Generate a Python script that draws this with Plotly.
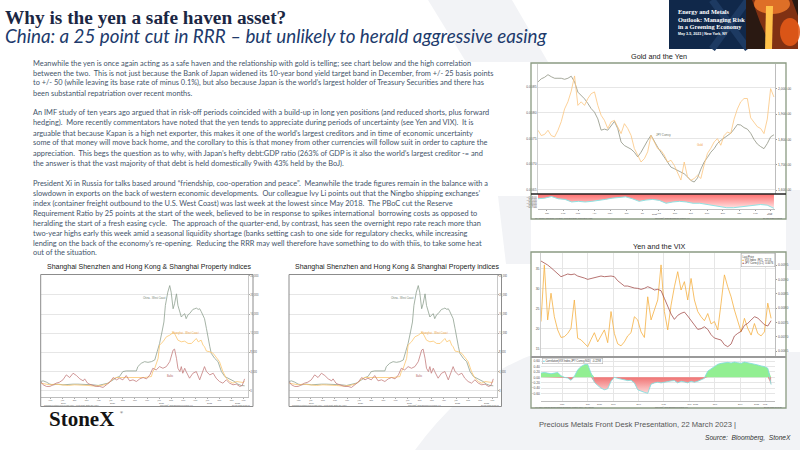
import numpy as np
import pandas as pd
import plotly.graph_objects as go

W, H = 800, 450

# ---------------- Gold and the Yen (Dec-2021 .. Mar-2023) ----------------
gold_dates = pd.date_range("2021-12-29", "2023-03-22", periods=72)
gold_jpy_x1e4 = [86.0, 86.6, 86.9, 87.4, 87.0, 86.7, 86.7, 86.7, 86.5, 86.7,
                 87.1, 86.0, 84.0, 83.4, 82.7, 81.8, 80.8, 80.1, 78.8, 76.6,
                 76.8, 76.6, 77.5, 78.3, 76.9, 74.3, 73.6, 73.3, 72.9, 72.3,
                 71.4, 72.3, 73.6, 74.6, 75.6, 74.3, 73.3, 72.3, 71.4, 70.4,
                 69.4, 69.1, 68.8, 68.5, 68.1, 67.5, 66.8, 66.5, 67.3, 69.0,
                 70.4, 71.3, 72.3, 73.0, 74.0, 74.6, 75.1, 75.6, 76.0, 76.8,
                 77.7, 77.6, 77.1, 76.8, 76.0, 74.8, 73.9, 73.4, 73.0, 74.0,
                 75.3, 75.7]
gold_usd = [1836, 1815, 1820, 1836, 1815, 1810, 1836, 1870, 1920, 1948,
            1990, 2050, 1934, 1948, 1934, 1961, 1980, 1987, 1934, 1895,
            1875, 1843, 1869, 1875, 1849, 1823, 1862, 1843, 1816, 1764,
            1738, 1711, 1724, 1751, 1816, 1790, 1764, 1757, 1738, 1711,
            1718, 1698, 1672, 1640, 1711, 1652, 1639, 1646, 1659, 1646,
            1700, 1745, 1765, 1790, 1803, 1777, 1815, 1829, 1823, 1880,
            1920, 1948, 1961, 1961, 1885, 1869, 1850, 1843, 1823, 1880,
            2000, 1967]
gold_corr_dates = pd.date_range("2021-12-29", "2023-03-22", periods=36)
gold_corr = [-0.422, -0.400, -0.344, -0.422, -0.444, -0.533, -0.511, -0.533, -0.511, -0.489,
             -0.444, -0.400, -0.367, -0.356, -0.422, -0.511, -0.467, -0.444, -0.478, -0.578,
             -0.533, -0.511, -0.533, -0.578, -0.578, -0.622, -0.667, -0.711, -0.733, -0.733,
             -0.711, -0.689, -0.644, -0.622, -0.644, -0.756]

# ---------------- Yen and the VIX (Dec-2020 .. Mar-2023) ----------------
vix_dates = pd.date_range("2020-12-15", "2023-03-22", periods=70)
vix_index = [21.8, 36.0, 22.2, 28.9, 23.0, 19.7, 17.8, 18.0, 18.8, 20.1,
             27.2, 17.6, 17.2, 16.3, 15.5, 17.3, 19.0, 16.7, 18.2, 19.7,
             16.5, 24.3, 18.8, 16.2, 15.7, 16.7, 18.2, 19.0, 23.0, 22.2,
             19.2, 17.8, 28.0, 22.2, 24.7, 27.2, 36.0, 24.3, 19.7, 25.9,
             30.5, 34.3, 29.7, 31.8, 27.2, 32.6, 27.2, 24.3, 23.0, 22.0,
             23.8, 21.2, 21.8, 19.7, 26.4, 33.5, 30.5, 28.0, 24.7, 21.8,
             19.2, 22.6, 20.1, 18.4, 21.3, 18.8, 18.2, 19.2, 26.4, 22.6]
vix_jpy_x1e4 = [96.40, 95.81, 95.00, 94.07, 92.91, 92.09, 90.93, 91.39, 91.86, 91.63,
                91.86, 91.16, 90.93, 90.46, 90.00, 90.23, 90.70, 90.93, 91.16, 90.93,
                91.05, 91.16, 90.93, 89.53, 88.60, 87.67, 87.67, 87.21, 86.98, 86.86,
                86.51, 86.86, 87.44, 86.98, 86.28, 86.51, 86.04, 83.37, 80.46, 77.90,
                76.04, 77.44, 78.14, 78.60, 77.21, 75.58, 74.18, 72.55, 72.79, 73.48,
                72.55, 70.69, 69.53, 69.18, 68.83, 67.20, 66.51, 67.44, 70.23, 71.16,
                71.86, 73.95, 74.65, 75.81, 76.97, 76.51, 75.35, 74.18, 73.72, 75.58]
vix_corr = [0.158, 0.182, 0.158, 0.133, 0.158, 0.182, 0.061, 0.0, -0.024, -0.109,
            0.036, 0.279, 0.400, 0.473, 0.485, 0.158, -0.182, -0.303, -0.400, -0.461,
            -0.424, -0.145, 0.0, -0.036, -0.061, -0.085, -0.121, -0.109, -0.206, -0.461,
            -0.521, -0.558, -0.594, -0.255, -0.206, -0.182, -0.206, -0.170, -0.158, -0.133,
            -0.121, -0.206, -0.145, -0.170, -0.206, -0.145, -0.182, -0.145, -0.085, -0.036,
            0.230, 0.315, 0.400, 0.485, 0.521, 0.545, 0.558, 0.533, 0.570, 0.545,
            0.521, 0.570, 0.545, 0.521, 0.509, 0.461, 0.424, 0.400, 0.339, -0.267]

# ---------------- container freight panels (decimal years) ----------------
china_t = [2019.00, 2019.05, 2019.12, 2019.19, 2019.26, 2019.36, 2019.46, 2019.57, 2019.67, 2019.77,
           2019.88, 2019.98, 2020.08, 2020.19, 2020.29, 2020.39, 2020.50, 2020.57, 2020.63, 2020.70,
           2020.77, 2020.88, 2020.98, 2021.01, 2021.08, 2021.15, 2021.22, 2021.29, 2021.36, 2021.41,
           2021.46, 2021.51, 2021.55, 2021.58, 2021.61, 2021.63, 2021.67, 2021.70, 2021.74, 2021.77,
           2021.81, 2021.84, 2021.88, 2021.91, 2021.94, 2021.98, 2022.01, 2022.05, 2022.08, 2022.12,
           2022.15, 2022.19, 2022.22, 2022.26, 2022.29, 2022.32, 2022.36, 2022.39, 2022.43, 2022.46,
           2022.50, 2022.53, 2022.57, 2022.60, 2022.67, 2022.74, 2022.81, 2022.88, 2022.94, 2023.01,
           2023.08, 2023.15, 2023.22]
china_wc = [1931, 2069, 1793, 1379, 1241, 1379, 1241, 1379, 1379, 1379,
            1379, 1241, 1241, 1103, 1379, 1586, 2276, 2759, 2966, 4000,
            4138, 4138, 4138, 5035, 5724, 6069, 5931, 6069, 6414, 8138,
            9862, 12276, 14345, 17793, 19517, 20552, 21931, 20552, 17103, 18138,
            20207, 17793, 16414, 15379, 15724, 16069, 15035, 15862, 16069, 16552,
            16966, 17103, 17241, 16966, 17103, 16552, 15724, 15035, 12966, 10897,
            9172, 7793, 7103, 6759, 6069, 4000, 2966, 2621, 2276, 1931,
            1379, 1103, 1034]
shanghai_t = [2019.00, 2019.08, 2019.19, 2019.29, 2019.43, 2019.57, 2019.70, 2019.84, 2019.98, 2020.12,
              2020.26, 2020.36, 2020.43, 2020.50, 2020.57, 2020.63, 2020.74, 2020.88, 2021.01, 2021.15,
              2021.29, 2021.32, 2021.36, 2021.43, 2021.46, 2021.53, 2021.60, 2021.67, 2021.74, 2021.77,
              2021.84, 2021.91, 2021.98, 2022.05, 2022.12, 2022.19, 2022.22, 2022.26, 2022.32, 2022.36,
              2022.39, 2022.43, 2022.50, 2022.57, 2022.63, 2022.70, 2022.77, 2022.84, 2022.91, 2022.98,
              2023.05, 2023.12, 2023.19, 2023.22]
shanghai_wc = [1586, 1379, 1241, 1379, 1241, 1103, 1241, 1241, 1103, 966,
               1103, 1379, 1793, 2483, 2759, 2759, 2759, 2759, 2759, 2759,
               2966, 4000, 4690, 6759, 9517, 10207, 11241, 11586, 12138, 11931,
               10552, 10207, 10345, 9862, 9862, 10552, 10897, 10207, 10552, 9517,
               9172, 8276, 8138, 7793, 7103, 6069, 4000, 2621, 1931, 1586,
               1931, 1793, 1724, 1931]
baltic_t = [2019.00, 2019.05, 2019.12, 2019.19, 2019.26, 2019.32, 2019.39, 2019.46, 2019.53, 2019.60,
            2019.67, 2019.74, 2019.81, 2019.88, 2019.91, 2019.97, 2020.01, 2020.08, 2020.15, 2020.22,
            2020.29, 2020.36, 2020.43, 2020.50, 2020.57, 2020.63, 2020.70, 2020.77, 2020.84, 2020.91,
            2020.98, 2021.05, 2021.12, 2021.19, 2021.26, 2021.32, 2021.39, 2021.46, 2021.53, 2021.60,
            2021.67, 2021.74, 2021.77, 2021.81, 2021.84, 2021.88, 2021.91, 2021.94, 2021.98, 2022.01,
            2022.08, 2022.15, 2022.22, 2022.29, 2022.36, 2022.39, 2022.43, 2022.50, 2022.57, 2022.63,
            2022.70, 2022.77, 2022.84, 2022.91, 2022.98, 2023.05, 2023.12, 2023.17, 2023.22]
baltic = [1931, 1241, 897, 897, 1241, 1586, 1793, 2276, 3310, 2759,
          3655, 3172, 2483, 2069, 2483, 1586, 1379, 1103, 897, 897,
          690, 1241, 1793, 2759, 2276, 2621, 2276, 3172, 2069, 2276,
          1931, 2483, 2759, 2483, 3310, 4690, 4345, 5035, 4690, 5035,
          6069, 8483, 8690, 6759, 4690, 4000, 5035, 3655, 4690, 4000,
          2621, 3655, 4000, 2276, 4000, 5035, 4000, 3310, 3655, 2621,
          1931, 1586, 2276, 1586, 1241, 1379, 897, 1103, 2483]

month_names = ["Jan", "Feb", "Mar", "Apr", "May", "Jun", "Jul", "Aug", "Sep", "Oct", "Nov", "Dec"]

title_1 = "Why is the yen a safe haven asset?"
title_2 = "China: a 25 point cut in RRR \u2013 but unlikely to herald aggressive easing"
body_lines = [
    "Meanwhile the yen is once again acting as a safe haven and the relationship with gold is telling; see chart below and the high correlation",
    "between the two.  This is not just because the Bank of Japan widened its 10-year bond yield target band in December, from +/- 25 basis points",
    "to +/- 50 (while leaving its base rate of minus 0.1%), but also because Japan is the world\u2019s largest holder of Treasury Securities and there has",
    "been substantial repatriation over recent months.",
    "",
    "An IMF study of ten years ago argued that in risk-off periods coincided with a build-up in long yen positions (and reduced shorts, plus forward",
    "hedging).  More recently commentators have noted that the yen tends to appreciate during periods of uncertainty (see Yen and VIX).  It is",
    "arguable that because Kapan is a high net exporter, this makes it one of the world\u2019s largest creditors and in time of economic uncertainty",
    "some of that money will move back home, and the corollary to this is that money from other currencies will follow suit in order to capture the",
    "appreciation.  This begs the question as to why, with Japan\u2019s hefty debt:GDP ratio (263% of GDP is it also the world\u2019s largest creditor -= and",
    "the answer is that the vast majority of that debt is held domestically 9with 43% held by the BoJ).",
    "",
    "President Xi in Russia for talks based around \u201cfriendship, coo-operation and peace\u201d.  Meanwhile the trade figures remain in the balance with a",
    "slowdown in exports on the back of western economic developments.  Our colleague Ivy Li points out that the Ningbo shipping exchanges\u2019",
    "index (container freight outbound to the U.S. West Coast) was last week at the lowest since May 2018.  The PBoC cut the Reserve",
    "Requirement Ratio by 25 points at the start of the week, believed to be in response to spikes international  borrowing costs as opposed to",
    "heralding the start of a fresh easing cycle.   The approach of the quarter-end, by contrast, has seen the overnight repo rate reach more than",
    "two-year highs early this week amid a seasonal liquidity shortage (banks setting cash to one side for regulatory checks, while increasing",
    "lending on the back of the economy\u2019s re-opening.  Reducing the RRR may well therefore have something to do with thiis, to take some heat",
    "out of the situation.",
]


def px(x):
    return x / W


def py(y):
    return 1 - y / H


fig = go.Figure()


def text(x, y, s, size, color="#222", family="Liberation Sans", xanchor="left", **kw):
    fig.add_annotation(x=px(x), y=py(y), xref="paper", yref="paper", text=s, showarrow=False,
                       font=dict(size=size, color=color, family=family),
                       xanchor=xanchor, yanchor="middle", **kw)


def rect(x0, y0, x1, y1, fill=None, line=None, width=0, layer="below"):
    fig.add_shape(type="rect", xref="paper", yref="paper", x0=px(x0), x1=px(x1), y0=py(y0), y1=py(y1),
                  fillcolor=fill, line=dict(color=line, width=width), layer=layer)


def poly(points, fill, layer="below", opacity=1):
    d = "M " + " L ".join(f"{px(a):.4f},{py(b):.4f}" for a, b in points) + " Z"
    fig.add_shape(type="path", xref="paper", yref="paper", path=d, fillcolor=fill,
                  line=dict(width=0), layer=layer, opacity=opacity)


def hline(x0, x1, y, color, width, layer="above"):
    fig.add_shape(type="line", xref="paper", yref="paper", x0=px(x0), x1=px(x1), y0=py(y), y1=py(y),
                  line=dict(color=color, width=width), layer=layer)


# ---- background watermark (light grey X)
wm = "#f2f3f6"
poly([(428, 0), (512, 0), (548, 62), (466, 62)], wm)
poly([(498, 196), (531, 196), (531, 264), (506, 264)], wm)
poly([(786, 190), (800, 190), (800, 270), (786, 270)], wm)
fig.add_shape(type="path", xref="paper", yref="paper", layer="below", fillcolor=wm, line=dict(width=0),
              path=f"M {px(415):.4f},{py(450):.4f} Q {px(470):.4f},{py(375):.4f} {px(540):.4f},{py(352):.4f} "
                   f"L {px(800):.4f},{py(352):.4f} L {px(800):.4f},{py(450):.4f} Z")

# ---- chart boxes (white)
rect(531, 63, 786, 219, fill="white")
rect(531, 252, 786, 408, fill="white")
rect(40.7, 274.5, 253, 406.5, fill="white")
rect(289, 274.5, 501.5, 406.5, fill="white")

# ---- banner top-right
rect(669, 0, 798, 49, fill="#10284a")
fig.add_shape(type="line", xref="paper", yref="paper", x0=px(712), y0=py(0), x1=px(748), y1=py(49),
              line=dict(color="#1d3a62", width=7), layer="below")
fig.add_shape(type="line", xref="paper", yref="paper", x0=px(748), y0=py(0), x1=px(712), y1=py(49),
              line=dict(color="#1d3a62", width=7), layer="below")
rect(746, 0, 798, 49, fill="#2a1912")
poly([(752, 0), (792, 0), (798, 16), (798, 49), (772, 49), (760, 22)], "#8a3414", opacity=0.9)
fig.add_shape(type="circle", xref="paper", yref="paper", x0=px(754), x1=px(790), y0=py(14), y1=py(-6),
              fillcolor="#e8772a", line=dict(width=0), layer="below", opacity=0.9)
poly([(766, 6), (773, 6), (772, 49), (765, 49)], "#ffc24a")
fig.add_shape(type="circle", xref="paper", yref="paper", x0=px(780), x1=px(800), y0=py(46), y1=py(18),
              fillcolor="#e35a18", line=dict(width=0), layer="below", opacity=0.9)
text(676, 11.5, "<b>Energy and Metals</b>", 6.3, "white", "Liberation Serif")
text(676, 19, "<b>Outlook: Managing Risk</b>", 6.3, "white", "Liberation Serif")
text(676, 26.5, "<b>in a Greening Economy</b>", 6.3, "white", "Liberation Serif")
text(676, 34, "<b>May 3-5, 2023 | New York, NY</b>", 3.6, "white", "Liberation Sans")

# ---- titles and body text
text(3, 17, "<b>" + title_1 + "</b>", 19.3, "#1b2744", "Liberation Serif")
text(3, 36, "<i>" + title_2 + "</i>", 18.8, "#203a6c", "Lato")
for i, line in enumerate(body_lines):
    if line:
        text(31, 63 + 10 * i, line, 7.4, "#44546A", "Lato")

# ================= Gold and the Yen =================
gx = [px(538), px(775)]
fig.add_trace(go.Scatter(x=gold_dates, y=np.array(gold_jpy_x1e4) / 1e4, mode="lines",
                         line=dict(color="#8f9383", width=0.8), xaxis="x", yaxis="y"))
fig.add_trace(go.Scatter(x=gold_dates, y=gold_usd, mode="lines",
                         line=dict(color="#fbc57f", width=0.8), xaxis="x", yaxis="y2"))
fig.add_trace(go.Scatter(x=gold_corr_dates, y=gold_corr, mode="lines", fill="tozeroy",
                         fillgradient=dict(type="vertical", start=-0.78, stop=-0.26,
                                           colorscale=[[0, "#ffe9e9"], [1, "#ff6e6e"]]),
                         line=dict(color="#8fe3e3", width=1), xaxis="x2", yaxis="y3"))

g_months = pd.date_range("2022-01-01", "2023-03-01", freq="MS") + pd.Timedelta(days=14)
g_text = [month_names[d.month - 1] for d in g_months]

axis_font = dict(size=3.4, color="#555", family="Liberation Sans")
x_font = dict(size=2.5, color="#555", family="Liberation Sans")
grid = "#e6e6e6"
gold_xrange = ["2021-12-29", "2023-03-24"]
fig.update_layout(
    xaxis=dict(domain=gx, anchor="y", range=gold_xrange, showticklabels=False, showgrid=False,
               zeroline=False, showline=False),
    yaxis=dict(domain=[py(194), py(64)], anchor="x", range=[0.006417, 0.008948],
               tickvals=[0.0065, 0.0070, 0.0075, 0.0080, 0.0085], tickformat=".4f", tickfont=axis_font,
               showgrid=True, gridcolor=grid, gridwidth=0.6, zeroline=False, showline=True,
               linecolor="#cfcfcf", linewidth=0.6, ticks="", ticklen=0),
    yaxis2=dict(overlaying="y", anchor="x", side="right", range=[1585, 2097],
                tickvals=[1600, 1700, 1800, 1900, 2000], tickformat=",.2f", tickfont=axis_font,
                showgrid=False, zeroline=False, showline=True, linecolor="#bdbdbd", linewidth=0.6,
                ticks="outside", ticklen=1.5, tickcolor="#999"),
    xaxis2=dict(domain=gx, anchor="y3", range=gold_xrange, tickvals=list(g_months), ticktext=g_text,
                tickfont=x_font, showgrid=False, zeroline=False, showline=True, linecolor="#bdbdbd",
                linewidth=0.6, ticks="outside", ticklen=0.8, tickcolor="#999"),
    yaxis3=dict(domain=[py(209), py(194)], anchor="x2", range=[-0.778, -0.256],
                tickvals=[-0.4, -0.5, -0.6, -0.7], tickformat=".3f", tickfont=axis_font,
                showgrid=False, zeroline=False, showline=False),
)
text(663, 134.7, "JPY Curncy", 2.8, "#6b6f60", xanchor="center")
text(699.5, 144.7, "Gold", 2.8, "#f2a24a", xanchor="center")
text(655, 214.4, "2022", 2.3, "#555", xanchor="center")
text(770, 214.4, "2023", 2.3, "#555", xanchor="center")
text(533, 217.6, "JPY Curncy (Japanese Yen Spot)  Gold Spot $/Oz  Correlation (90D)", 1.9, "#666")
text(672, 217.6, "Copyright\u00a9 2023 Bloomberg Finance L.P.", 1.9, "#666", xanchor="center")
text(784, 217.6, "21-Mar-2023 10:15:52", 1.9, "#666", xanchor="right")
text(658.5, 56.5, "Gold and the Yen", 7.3, "#222", xanchor="center")
rect(531, 63, 786, 219, line="#8a9a82", width=1.3, layer="above")
hline(531, 786, 194, "#222", 1.4)

# ================= Yen and the VIX =================
vx = [px(541), px(775)]
fig.add_trace(go.Scatter(x=vix_dates, y=vix_index, mode="lines",
                         line=dict(color="#f5b041", width=0.8), xaxis="x3", yaxis="y4"))
fig.add_trace(go.Scatter(x=vix_dates, y=np.array(vix_jpy_x1e4) / 1e4, mode="lines",
                         line=dict(color="#a5504e", width=0.8), xaxis="x3", yaxis="y5"))
corr = np.array(vix_corr)
fig.add_trace(go.Scatter(x=vix_dates, y=np.maximum(corr, 0), mode="lines", fill="tozeroy",
                         fillcolor="#92ef92", line=dict(width=0), xaxis="x4", yaxis="y6"))
fig.add_trace(go.Scatter(x=vix_dates, y=np.minimum(corr, 0), mode="lines", fill="tozeroy",
                         fillgradient=dict(type="vertical", start=-0.62, stop=0,
                                           colorscale=[[0, "#ffdede"], [1, "#f07474"]]),
                         line=dict(width=0), xaxis="x4", yaxis="y6"))
fig.add_trace(go.Scatter(x=vix_dates, y=corr, mode="lines", line=dict(color="#86dede", width=0.9),
                         xaxis="x4", yaxis="y6"))

q_ticks = pd.date_range("2021-03-01", "2023-03-01", freq="3MS")
q_text = [month_names[d.month - 1] for d in q_ticks]
vix_xrange = ["2020-12-15", "2023-04-05"]
fig.update_layout(
    xaxis3=dict(domain=vx, anchor="y4", range=vix_xrange, tickvals=list(q_ticks), showticklabels=False,
                showgrid=True, gridcolor=grid, gridwidth=0.6, zeroline=False, showline=False),
    yaxis4=dict(domain=[py(356.7), py(252.7)], anchor="x3", range=[12.98, 39.06],
                tickvals=[15, 20, 25, 30, 35], tickfont=axis_font, showgrid=True, gridcolor=grid,
                gridwidth=0.6, zeroline=False, showline=True, linecolor="#cfcfcf", linewidth=0.6),
    yaxis5=dict(overlaying="y4", anchor="x3", side="right", range=[0.006302, 0.009930],
                tickvals=[0.0065, 0.0070, 0.0075, 0.0080, 0.0085, 0.0090, 0.0095], tickformat=".4f",
                tickfont=axis_font, showgrid=False, zeroline=False, showline=True, linecolor="#bdbdbd",
                linewidth=0.6, ticks="outside", ticklen=1.5, tickcolor="#999"),
    xaxis4=dict(domain=vx, anchor="y6", range=vix_xrange, tickvals=list(q_ticks), ticktext=q_text,
                tickfont=x_font, showgrid=True, gridcolor=grid, gridwidth=0.6, zeroline=False,
                showline=True, linecolor="#bdbdbd", linewidth=0.6, ticks="outside", ticklen=0.8,
                tickcolor="#999"),
    yaxis6=dict(domain=[py(400.8), py(357.5)], anchor="x4", range=[-0.873, 0.739],
                tickvals=[-0.6, -0.4, -0.2, 0, 0.2, 0.4, 0.6], tickformat=".2f", tickfont=axis_font,
                showgrid=True, gridcolor=grid, gridwidth=0.5, zeroline=False, showline=False),
)
text(599.5, 404.3, "2021", 2.2, "#555", xanchor="center")
text(696, 404.3, "2022", 2.2, "#555", xanchor="center")
text(757, 404.3, "2023", 2.2, "#555", xanchor="center")
text(533, 406.6, "VIX Index (Chicago Board Options Exchange Volatility Index)  JPY Curncy", 1.8, "#666")
text(672, 406.6, "Copyright\u00a9 2023 Bloomberg Finance L.P.", 1.8, "#666", xanchor="center")
text(784, 406.6, "21-Mar-2023 10:17:20", 1.8, "#666", xanchor="right")
fig.add_annotation(x=px(775), y=py(253.3), xref="paper", yref="paper", xanchor="right", yanchor="top",
                   showarrow=False, align="left", bgcolor="white", bordercolor="#aaa", borderwidth=0.5,
                   borderpad=1, font=dict(size=2.6, color="#333", family="Liberation Sans"),
                   text="Last Price<br><span style='color:#f5b041'>\u25a0</span> VIX Index  (R1)   22.13"
                        "<br><span style='color:#a5504e'>\u25a0</span> JPY Curncy (L1)  0.0076")
fig.add_annotation(x=px(542), y=py(358.3), xref="paper", yref="paper", xanchor="left", yanchor="top",
                   showarrow=False, bgcolor="white", bordercolor="#aaa", borderwidth=0.5, borderpad=0.6,
                   font=dict(size=2.6, color="#333", family="Liberation Sans"),
                   text="<span style='color:#5ed6e0'>\u25a0</span> Correlation(VIX Index,JPY Curncy,90D)  -0.2298")
text(659, 246.3, "Yen and the VIX", 7.3, "#222", xanchor="center")
rect(531, 252, 786, 408, line="#8a9a82", width=1.3, layer="above")
hline(531, 786, 357, "#9a9a9a", 1.8)

# ================= Freight panels (two copies) =================
f_ticks = list(np.arange(2019.2, 2023.25, 0.25))
f_text = [["Mar", "Jun", "Sep", "Dec"][i % 4] for i in range(len(f_ticks))]
panels = [(40.7, 248.0, 253.0, "x5", "y7"), (289.0, 496.7, 501.5, "x6", "y8")]
for k, (x0, x1, xb, xa, ya) in enumerate(panels):
    fig.add_trace(go.Scatter(x=china_t, y=china_wc, mode="lines", line=dict(color="#8ea08f", width=0.8),
                             xaxis=xa, yaxis=ya))
    fig.add_trace(go.Scatter(x=shanghai_t, y=shanghai_wc, mode="lines", line=dict(color="#fcc66e", width=0.8),
                             xaxis=xa, yaxis=ya))
    fig.add_trace(go.Scatter(x=baltic_t, y=baltic, mode="lines", line=dict(color="#c47d7d", width=0.8),
                             xaxis=xa, yaxis=ya))
    n = xa[1:]
    fig.update_layout(**{
        "xaxis" + n: dict(domain=[px(x0), px(x1)], anchor=ya, range=[2019.0, 2023.29], tickvals=f_ticks,
                          ticktext=f_text, tickfont=dict(size=2.2, color="#555"), showgrid=False,
                          zeroline=False, showline=True, linecolor="#bdbdbd", linewidth=0.6,
                          ticks="outside", ticklen=0.8, tickcolor="#aaa"),
        "yaxis" + ya[1:]: dict(domain=[py(397), py(274.7)], anchor=xa, side="right", range=[-1300, 24200],
                               tickvals=list(range(0, 24001, 4000)), tickformat=",d",
                               tickfont=dict(size=2.6, color="#555"), showgrid=True, gridcolor=grid,
                               gridwidth=0.6, zeroline=False, showline=True, linecolor="#c8c8c8",
                               linewidth=0.6, ticks="outside", ticklen=1, tickcolor="#aaa"),
    })
    dx = x0 - 40.7
    text(154 + dx, 298, "China - West Coast", 2.6, "#6f806f", xanchor="center")
    text(185.7 + dx, 332.7, "Shanghai - West Coast", 2.6, "#f0a640", xanchor="center")
    text(170.7 + dx, 376.3, "Baltic", 2.6, "#b06060", xanchor="center")
    for yr, xx in zip(["2019", "2020", "2021", "2022", "2023"], [64, 113, 161.5, 210, 238.5]):
        text(xx + dx, 402.6, yr, 2.2, "#555", xanchor="center")
    text(x0 + 1, 405.1, "Shanghai Containerized Freight Index - West Coast  Baltic Dry Index", 1.8, "#666")
    text((x0 + xb) / 2 + 30, 405.1, "Copyright\u00a9 2023 Bloomberg Finance L.P.", 1.8, "#666", xanchor="center")
    text(xb - 1, 405.1, "21-Mar-2023 10:20:11", 1.8, "#666", xanchor="right")
    rect(x0, 274.5, xb, 406.5, line="#8c8c8c", width=1, layer="above")
    text((x0 + xb) / 2 + 2, 266.7, "Shanghai Shenzhen and Hong Kong &amp; Shanghai Property indices", 7, "#222",
         xanchor="center")

# ---- footer
text(81, 419, "<b>StoneX</b>", 21, "#141414", "Liberation Serif", xanchor="center")
text(117.5, 412.5, "\u00ae", 4, "#141414", "Liberation Serif")
text(537, 424, "Precious Metals Front Desk Presentation, 22 March 2023 |", 7.6, "#555")
text(793, 437.7, "<i>Source:  Bloomberg,  StoneX</i>", 6.6, "#333", xanchor="right")

fig.update_layout(width=W, height=H, margin=dict(l=0, r=0, t=0, b=0), showlegend=False,
                  paper_bgcolor="white", plot_bgcolor="rgba(0,0,0,0)")
fig.write_html("out.html", config={"displayModeBar": False},
               post_script="document.body.style.margin='0';document.body.style.overflow='hidden';")
